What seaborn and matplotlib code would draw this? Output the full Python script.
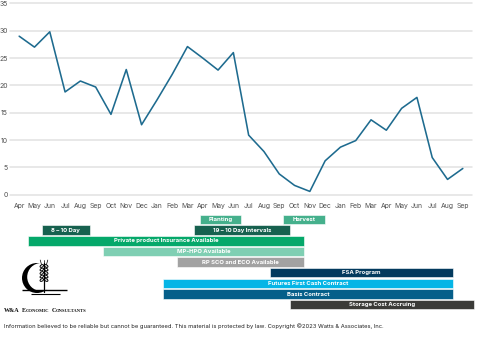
import matplotlib
matplotlib.use("Agg")
import matplotlib.pyplot as plt
from matplotlib.patches import Circle, Ellipse
import seaborn as sns
import pandas as pd

# ---------------- data ----------------
month_labels = ["Apr", "May", "Jun", "Jul", "Aug", "Sep", "Oct", "Nov", "Dec", "Jan",
                "Feb", "Mar", "Apr", "May", "Jun", "Jul", "Aug", "Sep", "Oct", "Nov",
                "Dec", "Jan", "Feb", "Mar", "Apr", "May", "Jun", "Jul", "Aug", "Sep"]
values = [29.0, 27.0, 29.8, 18.8, 20.8, 19.7, 14.7, 22.9, 12.8, 17.3,
          22.0, 27.1, 25.0, 22.8, 26.0, 10.9, 7.9, 3.8, 1.7, 0.6,
          6.2, 8.7, 9.9, 13.7, 11.8, 15.8, 17.8, 6.8, 2.8, 4.8]
y_ticks = [0, 5, 10, 15, 20, 25, 30, 35]

tasks = ["Planting", "Harvest", "8 – 10 Day", "19 – 10 Day Intervals",
         "Private product Insurance Available", "MP-HPO Available",
         "RP SCO and ECO Available", "FSA Program", "Futures First Cash Contract",
         "Basis Contract", "Storage Cost Accruing"]
task_rows = [0, 0, 1, 1, 2, 3, 4, 5, 6, 7, 8]
task_start = [11.8, 17.25, 1.5, 11.45, 0.55, 5.45, 10.3, 16.4, 9.4, 9.4, 17.7]
task_end = [14.5, 20.0, 4.6, 17.7, 18.65, 18.65, 18.65, 28.35, 28.35, 28.35, 29.75]
task_colors = ["#45b08c", "#45b08c", "#17614f", "#17614f", "#05a86a", "#7fcfb3",
               "#a2a2a2", "#033a5e", "#05b5e6", "#055f8a", "#3b3b38"]

footer = ("Information believed to be reliable but cannot be guaranteed. "
          "This material is protected by law. Copyright ©2023 Watts & Associates, Inc.")

# ---------------- style ----------------
sns.set_theme(style="white")
plt.rcParams["font.family"] = ["Inter", "DejaVu Sans"]

W, H = 480, 346
fig = plt.figure(figsize=(W / 100, H / 100), dpi=100)
fig.patch.set_facecolor("white")


def px_rect(x0, y0, x1, y1):
    return [x0 / W, 1 - y1 / H, (x1 - x0) / W, (y1 - y0) / H]


XLIM = (-0.6, 29.6)

# ---------------- line chart ----------------
ax = fig.add_axes(px_rect(10, 3.4, 472, 194.7))
df = pd.DataFrame({"idx": range(len(values)), "value": values})
sns.lineplot(data=df, x="idx", y="value", ax=ax, color="#1e6b8f", linewidth=1.15)
ax.set_xlim(*XLIM)
ax.set_ylim(0, 35)
ax.set_yticks(y_ticks)
ax.set_xticks(range(len(month_labels)))
ax.set_xticklabels(month_labels)
ax.set_xlabel("")
ax.set_ylabel("")
for s in ax.spines.values():
    s.set_visible(False)
ax.yaxis.grid(True, color="#e2e2e2", linewidth=1.1)
ax.xaxis.grid(False)
ax.set_axisbelow(True)
for gl in ax.get_ygridlines():
    gl.set_clip_on(False)
ax.tick_params(axis="y", length=0, pad=1.8, labelsize=5, labelcolor="#505050")
ax.tick_params(axis="x", length=0, pad=6.3, labelsize=4.9, labelcolor="#505050")

# ---------------- gantt ----------------
gax = fig.add_axes(px_rect(10, 214.2, 472, 310.1))
gax.set_xlim(*XLIM)
gax.set_ylim(8.5, -0.5)
for name, r, s0, s1, c in zip(tasks, task_rows, task_start, task_end, task_colors):
    gax.barh(r, s1 - s0, left=s0, height=0.88, color=c, edgecolor="white",
             linewidth=0.4, clip_on=False)
    gax.text((s0 + s1) / 2, r, name, ha="center", va="center", color="white",
             fontsize=4.3, fontweight="bold", clip_on=False)
gax.axis("off")

# ---------------- logo ----------------
lax = fig.add_axes(px_rect(15, 256, 75, 300))
lax.set_xlim(15, 75)
lax.set_ylim(300, 256)
lax.axis("off")
lax.add_patch(Circle((37, 278), 15, color="black", lw=0))
lax.add_patch(Circle((41.2, 277.0), 14, color="white", lw=0))
lax.plot([44, 44], [263, 292], color="black", lw=0.9)
for yy in [266, 269.5, 273, 276.5, 280]:
    lax.add_patch(Ellipse((41.8, yy), 3.8, 2.3, angle=-30, fc="white", ec="black", lw=0.7))
    lax.add_patch(Ellipse((46.2, yy), 3.8, 2.3, angle=30, fc="white", ec="black", lw=0.7))
lax.plot([41.5, 40.2], [264.5, 260], color="black", lw=0.5)
lax.plot([46.5, 47.8], [264.5, 260], color="black", lw=0.5)
lax.plot([44, 44], [264, 259.5], color="black", lw=0.5)
lax.plot([22, 67], [290, 290], color="black", lw=1.0, solid_capstyle="butt")
lax.plot([31, 60], [293.5, 293.5], color="black", lw=0.8, solid_capstyle="butt")

# company name in pseudo small caps
fig.canvas.draw()
renderer = fig.canvas.get_renderer()
pieces = [("W&A", 4.4), (" ", 3.4), ("E", 4.4), ("CONOMIC", 3.3), (" ", 3.4),
          ("C", 4.4), ("ONSULTANTS", 3.3)]
x = 4.0
ybase = 1 - 311.5 / H
for txt, fs in pieces:
    t = fig.text(x / W, ybase, txt, fontsize=fs, fontweight="bold",
                 family=["Liberation Serif", "DejaVu Serif"], color="#111111",
                 va="baseline", ha="left")
    if txt == " ":
        x += 1.8
    else:
        bb = t.get_window_extent(renderer)
        x += bb.width + 0.2

# footer
fig.text(4 / W, 1 - 326 / H, footer, fontsize=4.2, color="#222222",
         va="center", ha="left")

fig.savefig("out.png", dpi=100, facecolor="white")
